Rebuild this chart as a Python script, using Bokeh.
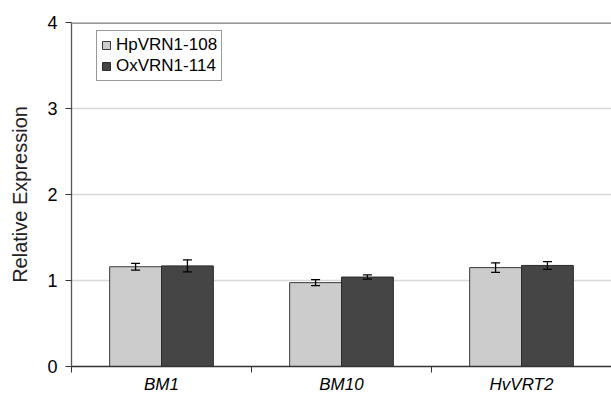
from bokeh.plotting import figure
from bokeh.models import ColumnDataSource, Whisker, FixedTicker, Range1d, Span, Legend, LegendItem
from bokeh.embed import file_html
from bokeh.resources import INLINE

categories = ["BM1", "BM10", "HvVRT2"]
series_names = ["HpVRN1-108", "OxVRN1-114"]
hp_values = [1.16, 0.975, 1.15]
hp_errors = [0.04, 0.035, 0.055]
ox_values = [1.17, 1.04, 1.175]
ox_errors = [0.07, 0.025, 0.045]
y_ticks = [0, 1, 2, 3, 4]

bar_w = 0.288
off = 0.144
xs = [i + 0.5 for i in range(len(categories))]

p = figure(width=611, height=396, output_backend="svg", toolbar_location=None,
           x_range=Range1d(0, len(categories)), y_range=Range1d(0, 4),
           min_border_left=71, min_border_right=0, min_border_top=22, min_border_bottom=20)
p.outline_line_color = None
p.background_fill_color = "white"

def make_src(vals, errs, shift):
    return ColumnDataSource(dict(
        x=[x + shift for x in xs], top=vals,
        lo=[v - e for v, e in zip(vals, errs)],
        hi=[v + e for v, e in zip(vals, errs)]))

src_hp = make_src(hp_values, hp_errors, -off)
src_ox = make_src(ox_values, ox_errors, off)

r1 = p.vbar(x="x", top="top", width=bar_w, source=src_hp, fill_color="#cccccc",
            line_color="#3a3a3a", line_width=1)
r2 = p.vbar(x="x", top="top", width=bar_w, source=src_ox, fill_color="#454545",
            line_color="#2a2a2a", line_width=1)

for src in (src_hp, src_ox):
    w = Whisker(base="x", lower="lo", upper="hi", source=src, line_color="black",
                line_width=1.3, level="overlay")
    w.upper_head.size = 9
    w.lower_head.size = 9
    w.upper_head.line_width = 1.3
    w.lower_head.line_width = 1.3
    p.add_layout(w)

p.add_layout(Span(location=4, dimension="width", line_color="#7a7a7a", line_width=2.5))

# x axis
p.xaxis.ticker = FixedTicker(ticks=xs, minor_ticks=list(range(len(categories) + 1)))
p.xaxis.major_label_overrides = {x: c for x, c in zip(xs, categories)}
p.xaxis.major_tick_out = 0
p.xaxis.major_tick_in = 0
p.xaxis.minor_tick_out = 6
p.xaxis.minor_tick_in = 0
p.xaxis.minor_tick_line_color = "#333333"
p.xaxis.axis_line_color = "#333333"
p.xaxis.axis_line_width = 1.3
p.xaxis.major_label_text_font = "Liberation Sans"
p.xaxis.major_label_text_font_style = "italic"
p.xaxis.major_label_text_font_size = "17px"
p.xaxis.major_label_text_color = "black"
p.xaxis.major_label_standoff = 2

# y axis
p.yaxis.ticker = FixedTicker(ticks=y_ticks)
p.yaxis.minor_tick_line_color = None
p.yaxis.major_tick_out = 6
p.yaxis.major_tick_in = 0
p.yaxis.major_tick_line_color = "#333333"
p.yaxis.axis_line_color = "#555555"
p.yaxis.axis_line_width = 1.3
p.yaxis.major_label_text_font = "Liberation Sans"
p.yaxis.major_label_text_font_size = "18px"
p.yaxis.major_label_text_color = "black"
p.yaxis.major_label_standoff = 8
p.yaxis.axis_label = "Relative Expression"
p.yaxis.axis_label_text_font = "Liberation Sans"
p.yaxis.axis_label_text_font_style = "normal"
p.yaxis.axis_label_text_font_size = "20px"
p.yaxis.axis_label_text_color = "#222222"
p.yaxis.axis_label_standoff = 13

p.xgrid.grid_line_color = None
p.ygrid.ticker = FixedTicker(ticks=[1, 2, 3])
p.ygrid.grid_line_color = "#d8d8d8"
p.ygrid.grid_line_width = 1.3

legend = Legend(items=[LegendItem(label=series_names[0], renderers=[r1]),
                       LegendItem(label=series_names[1], renderers=[r2])],
                location=(25, 285))
legend.border_line_color = "#333333"
legend.border_line_width = 1.3
legend.background_fill_alpha = 1
legend.label_text_font = "Liberation Sans"
legend.label_text_font_size = "17px"
legend.label_text_color = "black"
legend.glyph_width = 10
legend.glyph_height = 10
legend.label_height = 20
legend.label_standoff = 5
legend.spacing = 1
legend.padding = 4
legend.margin = 0
p.add_layout(legend, "center")

open("out.html", "w").write(file_html(p, INLINE))
